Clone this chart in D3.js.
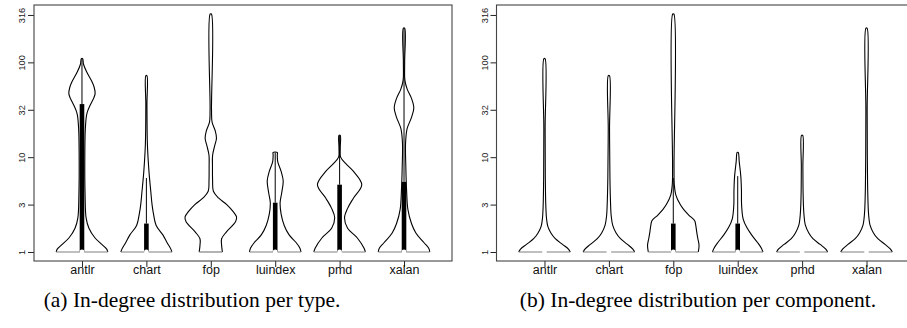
<!DOCTYPE html>
<html>
<head>
<meta charset="utf-8">
<script src="https://cdn.jsdelivr.net/npm/d3@7"></script>
<style>
  body { margin: 0; background: #fff; }
  svg { display: block; }
</style>
</head>
<body>
<svg id="chart" width="907" height="328"></svg>
<script>
// Projects on the x axis, log-scale ticks on the y axis
const projects = ["antlr", "chart", "fop", "luindex", "pmd", "xalan"];
const yTickValues = [1, 3.162, 10, 31.62, 100, 316.2];
const yTickLabels = ["1", "3", "10", "32", "100", "316"];
const captions = ["(a) In-degree distribution per type.", "(b) In-degree distribution per component."];

// Violin outlines: [in-degree, relative density]
const typeAntlr = [[1,1.0],[1.072,0.96],[1.202,0.77],[1.413,0.5],[1.778,0.27],[2.291,0.16],[3.981,0.12],[10,0.11],[19.95,0.13],[28.84,0.19],[35.48,0.32],[41.69,0.45],[46.77,0.51],[54.95,0.47],[63.1,0.38],[79.43,0.18],[95.5,0.06],[109.6,0.025]];
const typeChart = [[1,0.99],[1.072,0.95],[1.259,0.8],[1.514,0.64],[1.905,0.38],[2.57,0.27],[3.162,0.22],[4.365,0.17],[7.079,0.1],[13.49,0.04],[35.48,0.022],[72.44,0.02]];
const typeFop = [[1,0.45],[1.175,0.42],[1.38,0.42],[1.622,0.6],[2.089,0.96],[2.344,1.0],[2.661,0.87],[3.162,0.62],[3.715,0.3],[4.365,0.1],[5.623,0.07],[7.943,0.065],[10.47,0.07],[13.18,0.15],[15.85,0.22],[19.05,0.17],[23.44,0.05],[31.62,0.028],[323.6,0.025]];
const typeLuindex = [[1,1.0],[1.096,0.96],[1.259,0.81],[1.514,0.54],[1.905,0.35],[2.512,0.23],[3.311,0.19],[4.169,0.25],[5.623,0.31],[7.079,0.23],[8.913,0.1],[10.47,0.08],[11.22,0.08]];
const typePmd = [[1,1.0],[1.096,0.95],[1.413,0.68],[1.778,0.31],[2.291,0.19],[2.884,0.31],[3.715,0.54],[5.129,0.86],[7.079,0.54],[8.511,0.25],[10,0.04],[12.5,0.025],[16.98,0.025]];
const typeXalan = [[1,1.0],[1.096,0.96],[1.259,0.77],[1.585,0.46],[1.995,0.29],[2.818,0.15],[4.467,0.1],[7.943,0.07],[14.13,0.06],[19.95,0.12],[26.3,0.29],[33.11,0.38],[41.69,0.29],[52.48,0.12],[64.57,0.035],[100,0.025],[229.1,0.025]];

const compAntlr = [[1,1.0],[1.072,0.93],[1.202,0.7],[1.38,0.42],[1.585,0.25],[1.862,0.13],[2.239,0.08],[3.162,0.05],[6.31,0.032],[19.95,0.025],[109.6,0.022]];
const compChart = [[1,1.0],[1.072,0.93],[1.202,0.72],[1.38,0.45],[1.585,0.28],[1.905,0.15],[2.399,0.09],[3.548,0.06],[6.31,0.04],[19.95,0.025],[72.44,0.022]];
const compFop = [[1,0.97],[1.175,1.0],[1.396,0.95],[1.622,0.91],[1.928,0.87],[2.138,0.83],[2.455,0.6],[2.818,0.4],[3.162,0.27],[3.981,0.1],[5.129,0.04],[7.943,0.028],[323.6,0.022]];
const compLuindex = [[1,0.98],[1.096,0.92],[1.259,0.77],[1.514,0.54],[1.82,0.35],[2.239,0.21],[3.162,0.15],[4.467,0.145],[6.31,0.12],[8.913,0.06],[11.22,0.02]];
const compPmd = [[1,0.99],[1.072,0.92],[1.202,0.7],[1.38,0.42],[1.585,0.26],[1.905,0.13],[2.512,0.07],[3.981,0.04],[7.943,0.03],[16.98,0.022]];
const compXalan = [[1,1.0],[1.072,0.93],[1.202,0.72],[1.38,0.44],[1.585,0.27],[1.905,0.14],[2.512,0.08],[3.981,0.05],[10,0.032],[31.62,0.025],[229.1,0.022]];

// Boxplot summaries (quartiles, median, upper whisker)
const typeQ1 = [1, 1, 2, 1, 1, 1];
const typeMedian = [1, 1, 2, 1, 1, 1];
const typeQ3 = [36.31, 1.995, 2, 3.311, 5.129, 5.495];
const typeUpper = [109.6, 6.026, 2, 11.22, 16.98, 229.1];

const compQ1 = [1, 1, 1, 1, 1, 1];
const compMedian = [1, 1, 1, 1, 1, 1];
const compQ3 = [1, 1, 1.995, 1.995, 1, 1];
const compUpper = [1, 1, 6.026, 6.31, 1, 1];

const panels = [
  {offset: 0, caption: captions[0], violins: [typeAntlr, typeChart, typeFop, typeLuindex, typePmd, typeXalan],
   q1: typeQ1, med: typeMedian, q3: typeQ3, upper: typeUpper, capX: 192},
  {offset: 462.5, caption: captions[1], violins: [compAntlr, compChart, compFop, compLuindex, compPmd, compXalan],
   q1: compQ1, med: compMedian, q3: compQ3, upper: compUpper, capX: 698}
];

const svg = d3.select("#chart");
svg.append("rect").attr("width", 907).attr("height", 328).attr("fill", "#fff");

const box = {left: 34, right: 452, top: 5, bottom: 261};

const y = d3.scaleLog()
  .domain([Math.pow(10, -0.095), Math.pow(10, 2.605)])
  .range([box.bottom, box.top]);

// half-width of a violin at full density, in x units
const wex = 0.4;

panels.forEach(p => {
  const g = svg.append("g").attr("transform", `translate(${p.offset},0)`);

  const x = d3.scaleLinear()
    .domain([0.255, 6.745])
    .range([box.left, box.right]);

  // violins
  const line = d3.line().curve(d3.curveCatmullRom.alpha(0.5));
  p.violins.forEach((prof, i) => {
    const c = i + 1;
    const left = prof.map(([v, d]) => [x(c - wex * d), y(v)]);
    const right = prof.slice().reverse().map(([v, d]) => [x(c + wex * d), y(v)]);
    g.append("path")
      .attr("d", line(left.concat(right)))
      .attr("fill", "none")
      .attr("stroke", "#000")
      .attr("stroke-width", 1.1);
    // flat base of the violin
    g.append("line")
      .attr("x1", x(c - wex * prof[0][1])).attr("x2", x(c + wex * prof[0][1]))
      .attr("y1", y(prof[0][0])).attr("y2", y(prof[0][0]))
      .attr("stroke", "#808080")
      .attr("stroke-width", 1.2);

    // whisker, box and median
    g.append("line")
      .attr("x1", x(c)).attr("x2", x(c))
      .attr("y1", y(p.q3[i])).attr("y2", y(p.upper[i]))
      .attr("stroke", "#000").attr("stroke-width", 1);
    g.append("rect")
      .attr("x", x(c) - 2.3).attr("width", 4.6)
      .attr("y", y(p.q3[i])).attr("height", y(p.q1[i]) - y(p.q3[i]))
      .attr("fill", "#000");
    g.append("circle")
      .attr("cx", x(c)).attr("cy", y(p.med[i])).attr("r", 2.4)
      .attr("fill", "#fff");
  });

  // axes
  const yAxis = g.append("g")
    .attr("transform", `translate(${box.left},0)`)
    .call(d3.axisLeft(y).tickValues(yTickValues).tickFormat((d, i) => yTickLabels[i]).tickSize(6));
  yAxis.select(".domain").remove();
  yAxis.selectAll("line").attr("stroke", "#222");
  yAxis.selectAll("text")
    .attr("transform", "rotate(-90)")
    .attr("x", 0).attr("y", -9).attr("dy", 0)
    .attr("text-anchor", "middle")
    .attr("fill", "#222")
    .style("font-family", "'Liberation Sans', Arial, sans-serif")
    .style("font-size", "9.2px");

  const xAxis = g.append("g")
    .attr("transform", `translate(0,${box.bottom})`)
    .call(d3.axisBottom(x).tickValues([1, 2, 3, 4, 5, 6]).tickFormat(d => projects[d - 1]).tickSize(6));
  xAxis.select(".domain").remove();
  xAxis.selectAll("line").attr("stroke", "#222");
  xAxis.selectAll("text")
    .attr("y", 4)
    .attr("fill", "#111")
    .style("font-family", "'Liberation Sans', Arial, sans-serif")
    .style("font-size", "12.5px");

  // frame
  g.append("rect")
    .attr("x", box.left).attr("y", box.top)
    .attr("width", box.right - box.left).attr("height", box.bottom - box.top)
    .attr("fill", "none")
    .attr("stroke", "#444")
    .attr("stroke-width", 1.1);

  // caption
  svg.append("text")
    .attr("x", p.capX).attr("y", 306.5)
    .attr("text-anchor", "middle")
    .style("font-family", "'Liberation Serif', 'Times New Roman', serif")
    .style("font-size", "21.5px")
    .attr("fill", "#000")
    .text(p.caption);
});
</script>
</body>
</html>
